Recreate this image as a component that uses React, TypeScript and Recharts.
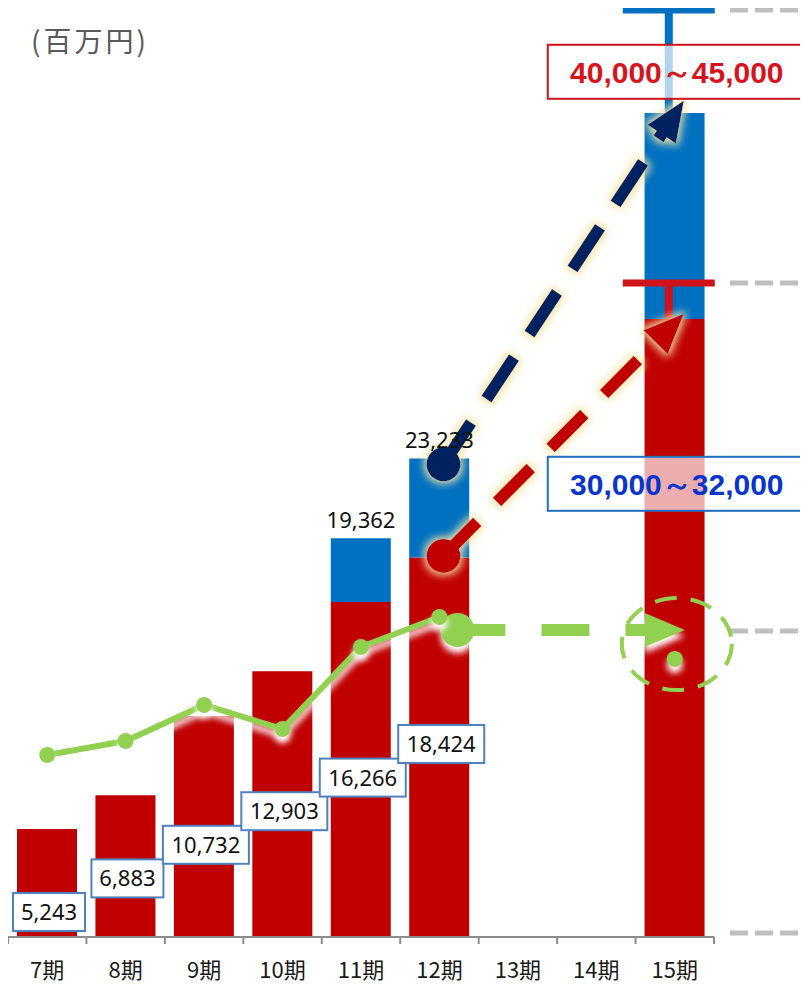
import React from 'react';
import {
  ComposedChart,
  Bar,
  Line,
  XAxis,
  YAxis,
  ReferenceLine,
  ReferenceDot,
  LabelList,
  Customized,
} from 'recharts';

// ---------- data ----------
const categories = ['7期', '8期', '9期', '10期', '11期', '12期', '13期', '14期', '15期'];
const baseSales = [5243, 6883, 10732, 12903, 16266, 18424, null, null, 30000];
const extraSales = [null, null, null, null, 3096, 4809, null, null, 10000];
const baseLabels = ['5,243', '6,883', '10,732', '12,903', '16,266', '18,424', null, null, null];
const totalCategories = ['11期', '12期'];
const totalValues = [19362, 23233];
const totalLabels = ['19,362', '23,233'];
const greenSeries = [8835, 9515, 11262, 10097, 14078, 15534, null, null, 13495];

const upperRange = { low: 40000, high: 45000, text: '40,000～45,000', boxAt: 42000 };
const lowerRange = { low: 30000, high: 31750, text: '30,000～32,000', boxAt: 22000 };
const guideLevels = [45000, 31750, 14850, 200];
const navyArrow = { from: 22950, to: 40600 };
const redArrow = { from: 18500, to: 30250 };
const greenArrow = { from: 14900, to: 14900 };
const greenCircleAt = 14220;
const yDomain = [0, 45000];

const data = categories.map((c, i) => ({
  name: c,
  base: baseSales[i],
  extra: extraSales[i],
  green: greenSeries[i],
}));

// ---------- styles ----------
const RED = '#c00000';
const BLUE = '#0070c0';
const NAVY = '#002060';
const GREEN = '#92d050';
const T_RED = '#d0121b';
const W = 800;
const H = 979;
const NUM_FONT = "'Noto Sans', 'DejaVu Sans', sans-serif";
const JP_FONT = "'Noto Sans CJK JP', 'Noto Sans', sans-serif";

const Defs = () => (
  <defs>
    <filter id="whiteDrop" filterUnits="userSpaceOnUse" x={0} y={0} width={W} height={H}>
      <feGaussianBlur in="SourceAlpha" stdDeviation={3} />
      <feOffset dy={6} result="o" />
      <feFlood floodColor="#ffffff" />
      <feComposite in2="o" operator="in" result="s" />
      <feMerge>
        <feMergeNode in="s" />
        <feMergeNode in="SourceGraphic" />
      </feMerge>
    </filter>
    <filter id="creamGlow" filterUnits="userSpaceOnUse" x={0} y={0} width={W} height={H}>
      <feMorphology in="SourceAlpha" operator="dilate" radius={2} result="d" />
      <feGaussianBlur in="d" stdDeviation={4} result="b" />
      <feFlood floodColor="#f4e4a8" />
      <feComposite in2="b" operator="in" result="g" />
      <feMerge>
        <feMergeNode in="g" />
        <feMergeNode in="SourceGraphic" />
      </feMerge>
    </filter>
  </defs>
);

const UnitLabel = () => (
  <text x={23} y={44} fontFamily={JP_FONT} fontSize={28} fill="#595959" letterSpacing={3}>
    (百万円)
  </text>
);

const AxisTick = (props: any) => {
  const { x, y, payload, index } = props;
  const half = payload && payload.offset ? payload.offset : 39.2;
  return (
    <g>
      <line x1={x - half} y1={y} x2={x - half} y2={y + 7} stroke="#8c8c8c" strokeWidth={2} />
      {index === categories.length - 1 && (
        <line x1={x + half} y1={y} x2={x + half} y2={y + 7} stroke="#8c8c8c" strokeWidth={2} />
      )}
      <text x={x} y={y + 41} textAnchor="middle" fontFamily={JP_FONT} fontSize={22} fill="#1a1a1a">
        {payload.value}
      </text>
    </g>
  );
};

const BaseBox = (props: any) => {
  const { x, y, width, height, index } = props;
  const txt = baseLabels[index];
  if (!txt) return null;
  const axisY = y + height;
  const cx = x + width / 2 + 2;
  const w = 14 * txt.length + 2;
  const h = 38;
  const bottom = axisY - 6 - index * 33.6;
  return (
    <g>
      <rect x={cx - w / 2} y={bottom - h} width={w} height={h} fill="#ffffff" stroke="#4f81bd" strokeWidth={2} />
      <text x={cx} y={bottom - h / 2 + 8} textAnchor="middle" fontFamily={NUM_FONT} fontSize={22} fill="#111">
        {txt}
      </text>
    </g>
  );
};

const makeTotalLabel = (txt: string) => (props: any) => {
  const { cx, cy } = props;
  return (
    <text x={cx} y={cy - 10} textAnchor="middle" fontFamily={NUM_FONT} fontSize={22} fill="#111">
      {txt}
    </text>
  );
};

const makeArrow = (color: string, glow: string, r: number, dx0: number, dx1: number, dash: string) => (props: any) => {
  const { x1, y1, x2, y2 } = props;
  const sx = x1 + dx0;
  const sy = y1;
  const tx = x2 + dx1;
  const ty = y2;
  const len = Math.hypot(tx - sx, ty - sy);
  const ux = (tx - sx) / len;
  const uy = (ty - sy) / len;
  const L = 40;
  const hw = 17;
  const bx = tx - ux * L;
  const by = ty - uy * L;
  const px = -uy;
  const py = ux;
  return (
    <g filter={`url(#${glow})`}>
      <line x1={sx} y1={sy} x2={bx + ux * 2} y2={by + uy * 2} stroke={color} strokeWidth={12} strokeDasharray={dash} />
      <polygon
        points={`${tx},${ty} ${bx + px * hw},${by + py * hw} ${bx - px * hw},${by - py * hw}`}
        fill={color}
      />
      <circle cx={sx} cy={sy} r={r} fill={color} />
    </g>
  );
};

const NavyArrowShape = makeArrow(NAVY, 'creamGlow', 17, 4, 9, '50 28');
const RedArrowShape = makeArrow(RED, 'creamGlow', 17, 4, 9, '48 28');
const GreenArrowShape = makeArrow(GREEN, 'whiteDrop', 17, 18, 10, '48 36');

const makeRangeT = (color: string) => (props: any) => {
  const { x1, y1, y2 } = props;
  const cx = x1 - 6;
  const top = Math.min(y1, y2);
  const bottom = Math.max(y1, y2);
  return (
    <g>
      <line x1={cx} y1={top} x2={cx} y2={bottom} stroke={color} strokeWidth={8} />
      <line x1={cx - 46} y1={top} x2={cx + 46} y2={top} stroke={color} strokeWidth={7} />
    </g>
  );
};
const BlueT = makeRangeT(BLUE);
const RedT = makeRangeT(T_RED);

const GuideShape = (props: any) => {
  const { x2, y1 } = props;
  return (
    <line x1={x2 + 16} y1={y1} x2={x2 + 100} y2={y1} stroke="#bfbfbf" strokeWidth={5} strokeDasharray="18 7" />
  );
};

const makeRangeBox = (text: string, color: string, border: string, opacity: number) => (props: any) => {
  const { cx, cy } = props;
  const w = 258;
  const h = 54;
  const x = cx + 2;
  return (
    <g>
      <rect x={x - w / 2} y={cy - h / 2} width={w} height={h} fill="#ffffff" fillOpacity={opacity} stroke={border} strokeWidth={2} />
      <text
        x={x}
        y={cy + 11}
        textAnchor="middle"
        fontFamily="'Liberation Sans', Arial, sans-serif"
        fontWeight="bold"
        fontSize={30}
        fill={color}
      >
        {text}
      </text>
    </g>
  );
};
const UpperBox = makeRangeBox(upperRange.text, '#d7141e', '#d0121b', 0.7);
const LowerBox = makeRangeBox(lowerRange.text, '#0a35cc', '#1f6fc0', 0.68);

const GreenCircle = (props: any) => {
  const { cx, cy } = props;
  return (
    <ellipse cx={cx + 2} cy={cy} rx={55} ry={46} fill="none" stroke={GREEN} strokeWidth={4} strokeDasharray="22 14" />
  );
};

export default function App() {
  return (
    <ComposedChart
      width={W}
      height={H}
      data={data}
      margin={{ top: 2, right: 94, left: 0, bottom: 10 }}
    >
      <Customized component={Defs} />
      <XAxis
        dataKey="name"
        height={40}
        tickLine={false}
        tickSize={0}
        tickMargin={0}
        axisLine={{ stroke: '#8c8c8c', strokeWidth: 2 }}
        tick={<AxisTick />}
        interval={0}
      />
      <YAxis hide domain={yDomain} allowDataOverflow />
      {guideLevels.map((v) => (
        <ReferenceLine key={v} y={v} shape={GuideShape} ifOverflow="visible" />
      ))}
      <Bar dataKey="base" stackId="s" fill={RED} barSize={60} isAnimationActive={false}>
        <LabelList dataKey="base" content={<BaseBox />} />
      </Bar>
      <Bar dataKey="extra" stackId="s" fill={BLUE} barSize={60} isAnimationActive={false} />
      <Line
        dataKey="green"
        stroke={GREEN}
        strokeWidth={6}
        dot={{ r: 8, fill: GREEN, stroke: 'none' }}
        filter="url(#whiteDrop)"
        isAnimationActive={false}
      />
      {totalCategories.map((c, i) => (
        <ReferenceDot key={c} x={c} y={totalValues[i]} shape={makeTotalLabel(totalLabels[i])} ifOverflow="visible" />
      ))}
      <ReferenceLine
        segment={[{ x: '15期', y: lowerRange.low }, { x: '15期', y: lowerRange.high }]}
        shape={RedT}
        ifOverflow="visible"
      />
      <ReferenceLine
        segment={[{ x: '15期', y: upperRange.low }, { x: '15期', y: upperRange.high }]}
        shape={BlueT}
        ifOverflow="visible"
      />
      <ReferenceDot x="15期" y={greenCircleAt} shape={GreenCircle} ifOverflow="visible" />
      <ReferenceLine
        segment={[{ x: '12期', y: greenArrow.from }, { x: '15期', y: greenArrow.to }]}
        shape={GreenArrowShape}
        ifOverflow="visible"
      />
      <ReferenceLine
        segment={[{ x: '12期', y: redArrow.from }, { x: '15期', y: redArrow.to }]}
        shape={RedArrowShape}
        ifOverflow="visible"
      />
      <ReferenceLine
        segment={[{ x: '12期', y: navyArrow.from }, { x: '15期', y: navyArrow.to }]}
        shape={NavyArrowShape}
        ifOverflow="visible"
      />
      <ReferenceDot x="15期" y={upperRange.boxAt} shape={UpperBox} ifOverflow="visible" />
      <ReferenceDot x="15期" y={lowerRange.boxAt} shape={LowerBox} ifOverflow="visible" />
      <Customized component={UnitLabel} />
    </ComposedChart>
  );
}
